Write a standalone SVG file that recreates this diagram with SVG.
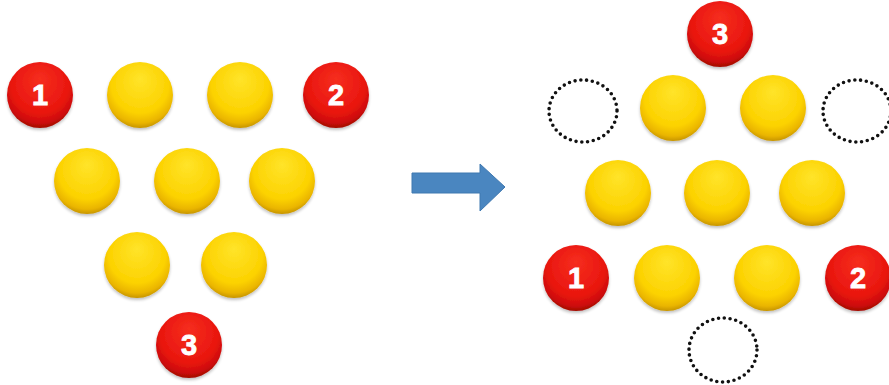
<svg xmlns="http://www.w3.org/2000/svg" width="889" height="385" viewBox="0 0 889 385">
  <defs>
    <radialGradient id="gYellow" cx="0.5" cy="0.38" r="0.62" fx="0.5" fy="0.25">
      <stop offset="0" stop-color="#ffe42a"/>
      <stop offset="0.7" stop-color="#fcd200"/>
      <stop offset="0.9" stop-color="#eab500"/>
      <stop offset="1" stop-color="#c79500"/>
    </radialGradient>
    <radialGradient id="gRed" cx="0.5" cy="0.38" r="0.62" fx="0.5" fy="0.25">
      <stop offset="0" stop-color="#f62e1e"/>
      <stop offset="0.7" stop-color="#e9160f"/>
      <stop offset="0.9" stop-color="#cc0c08"/>
      <stop offset="1" stop-color="#a00804"/>
    </radialGradient>
    <filter id="soft" x="-20%" y="-20%" width="140%" height="150%">
      <feGaussianBlur in="SourceAlpha" stdDeviation="1.5"/>
      <feOffset dy="2" result="o"/>
      <feComponentTransfer><feFuncA type="linear" slope="0.25"/></feComponentTransfer>
      <feMerge><feMergeNode/><feMergeNode in="SourceGraphic"/></feMerge>
    </filter>
  </defs>
  <style>
    .y { fill: url(#gYellow); filter: url(#soft); }
    .r { fill: url(#gRed); filter: url(#soft); }
    .empty { fill: none; stroke: #111; stroke-width: 3.6; stroke-linecap: round; stroke-dasharray: 0 5.8; }
    .num { fill: #fff; font-family: "Liberation Sans", Arial, sans-serif; font-weight: bold; font-size: 29px; text-anchor: middle; stroke: #fff; stroke-width: 0.8; }
    .arrow { fill: #4a86c0; stroke: #3f78b0; stroke-width: 1; }
  </style>

  <!-- starting layout -->
  <g id="left">
    <g id="L-red1"><circle class="r" cx="40" cy="95" r="33"/><text class="num" x="40" y="105">1</text></g>
    <g id="L-y1"><circle class="y" cx="140" cy="95" r="33"/></g>
    <g id="L-y2"><circle class="y" cx="240" cy="95" r="33"/></g>
    <g id="L-red2"><circle class="r" cx="336" cy="95" r="33"/><text class="num" x="336" y="105">2</text></g>
    <g id="L-y3"><circle class="y" cx="87" cy="181" r="33"/></g>
    <g id="L-y4"><circle class="y" cx="187" cy="181" r="33"/></g>
    <g id="L-y5"><circle class="y" cx="282" cy="181" r="33"/></g>
    <g id="L-y6"><circle class="y" cx="137" cy="265" r="33"/></g>
    <g id="L-y7"><circle class="y" cx="234" cy="265" r="33"/></g>
    <g id="L-red3"><circle class="r" cx="189" cy="345" r="33"/><text class="num" x="189" y="355">3</text></g>
  </g>

  <!-- transition arrow -->
  <g id="connectors">
    <path class="arrow" d="M412,173 L480,173 L480,164 L505,187 L480,211 L480,193 L412,193 Z"/>
  </g>

  <!-- resulting layout -->
  <g id="right">
    <g id="R-red3"><circle class="r" cx="720" cy="34" r="33"/><text class="num" x="720" y="44">3</text></g>
    <g id="R-empty1"><ellipse class="empty" cx="583" cy="111" rx="34" ry="31"/></g>
    <g id="R-y1"><circle class="y" cx="673" cy="108" r="33"/></g>
    <g id="R-y2"><circle class="y" cx="773" cy="108" r="33"/></g>
    <g id="R-empty2"><ellipse class="empty" cx="857" cy="111" rx="34" ry="31"/></g>
    <g id="R-y3"><circle class="y" cx="618" cy="193" r="33"/></g>
    <g id="R-y4"><circle class="y" cx="717" cy="193" r="33"/></g>
    <g id="R-y5"><circle class="y" cx="812" cy="193" r="33"/></g>
    <g id="R-red1"><circle class="r" cx="576" cy="278" r="33"/><text class="num" x="576" y="288">1</text></g>
    <g id="R-y6"><circle class="y" cx="667" cy="278" r="33"/></g>
    <g id="R-y7"><circle class="y" cx="767" cy="278" r="33"/></g>
    <g id="R-red2"><circle class="r" cx="858" cy="278" r="33"/><text class="num" x="858" y="288">2</text></g>
    <g id="R-empty3"><ellipse class="empty" cx="723" cy="350" rx="34" ry="32"/></g>
  </g>
</svg>
